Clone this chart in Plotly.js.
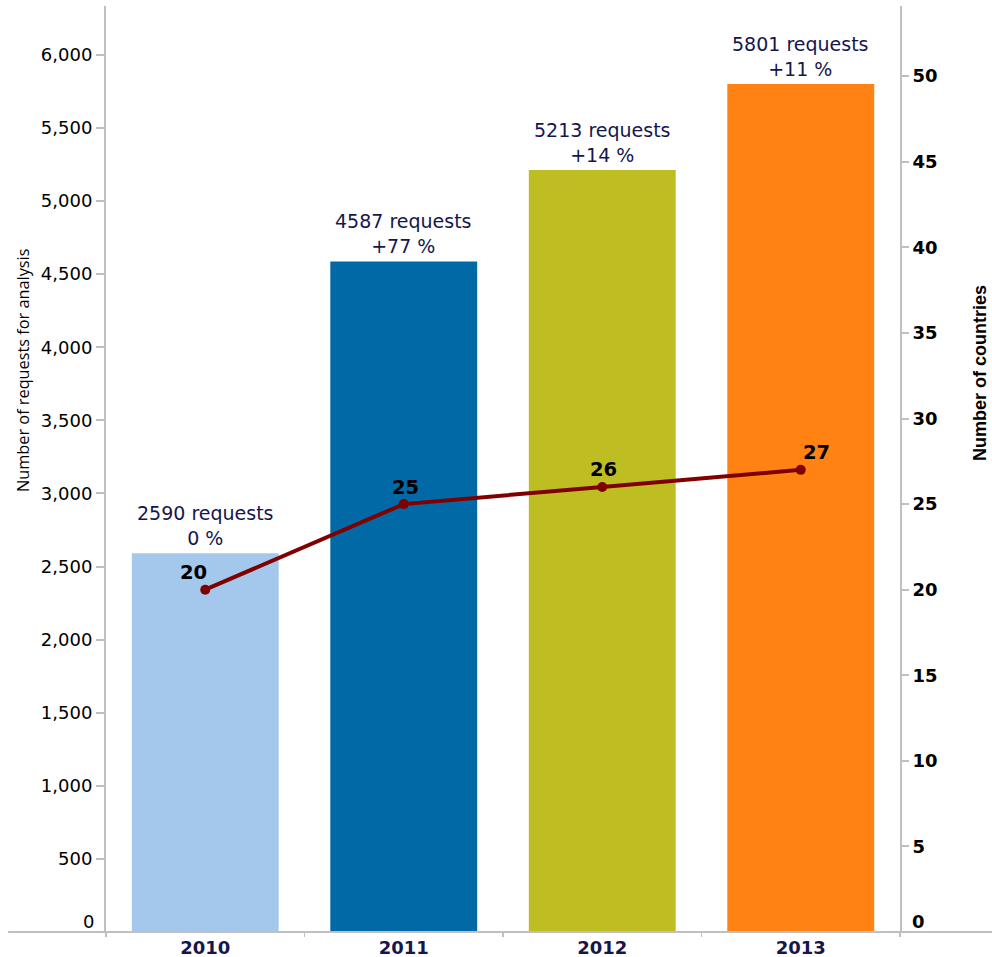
<!DOCTYPE html>
<html><head><meta charset="utf-8">
<script src="https://cdn.plot.ly/plotly-3.0.1.min.js"></script>
<style>html,body{margin:0;padding:0;background:#fff}#chart{width:992px;height:957px}</style>
</head><body><div id="chart"></div>
<script>
const years = ['2010', '2011', '2012', '2013'];
const requests = [2590, 4587, 5213, 5801];
const changeLabels = ['0 %', '+77 %', '+14 %', '+11 %'];
const countries = [20, 25, 26, 27];
const leftTicks = [500, 1000, 1500, 2000, 2500, 3000, 3500, 4000, 4500, 5000, 5500, 6000];
const rightTicks = [5, 10, 15, 20, 25, 30, 35, 40, 45, 50];
const leftTitle = 'Number of requests for analysis';
const rightTitle = 'Number of countries';
const barColors = ['#a3c8eb', '#0069a6', '#bebe23', '#ff8212'];

const countryLabelShift = [-12, 2, 1, 16];
const navy = '#16164e';
const grey = '#c0c0c0';

const traces = [
  {type: 'bar', x: years, y: requests, marker: {color: barColors}, hoverinfo: 'none', yaxis: 'y'},
  {type: 'scatter', mode: 'lines+markers', x: years, y: countries, yaxis: 'y2',
   line: {color: '#800000', width: 4}, marker: {color: '#800000', size: 10}, hoverinfo: 'none'}
];

const annotations = [];
years.forEach((yr, i) => {
  // category axes take the category index for annotation positions
  annotations.push({x: i, y: requests[i], xref: 'x', yref: 'y', yanchor: 'bottom', yshift: 2,
    text: requests[i] + ' requests<br>' + changeLabels[i], showarrow: false,
    font: {family: 'DejaVu Sans', size: 19, color: navy}});
  annotations.push({x: i, y: countries[i], xref: 'x', yref: 'y2', yanchor: 'middle', yshift: 17,
    xshift: countryLabelShift[i], text: '<b>' + countries[i] + '</b>', showarrow: false,
    font: {family: 'DejaVu Sans', size: 19.5, color: '#000'}});
});
annotations.push({x: 0, xref: 'paper', y: 0, yref: 'y', xanchor: 'right', xshift: -10, yshift: 11,
  text: '0', showarrow: false, font: {family: 'DejaVu Sans', size: 18, color: '#000'}});
annotations.push({x: 1, xref: 'paper', y: 0, yref: 'y', xanchor: 'left', xshift: 10, yshift: 11,
  text: '<b>0</b>', showarrow: false, font: {family: 'DejaVu Sans', size: 18, color: '#000'}});
annotations.push({x: -0.1045, xref: 'paper', y: 0.607, yref: 'paper', xanchor: 'center', yanchor: 'middle',
  textangle: -90, text: leftTitle, showarrow: false, font: {family: 'Open Sans', size: 16.3, color: '#000'}});
annotations.push({x: 1.1007, xref: 'paper', y: 0.6037, yref: 'paper', xanchor: 'center', yanchor: 'middle',
  textangle: -90, text: '<b>' + rightTitle + '</b>', showarrow: false,
  font: {family: 'Liberation Sans', size: 18, color: '#000'}});

const layout = {
  width: 992, height: 957,
  margin: {l: 106, r: 92, t: 6, b: 25},
  paper_bgcolor: '#fff', plot_bgcolor: '#fff',
  showlegend: false, bargap: 0.26,
  xaxis: {type: 'category', range: [-0.5, 3.5], showline: false, showgrid: false, zeroline: false,
    ticks: 'outside', tickson: 'boundaries', ticklen: 4, tickwidth: 1.5, tickcolor: grey,
    ticklabelstandoff: 3,
    tickfont: {family: 'DejaVu Sans', size: 18, color: navy, weight: 'bold'}},
  yaxis: {range: [0, 6334], tickvals: leftTicks, tickformat: ',', showline: true, linecolor: grey, linewidth: 2,
    ticks: 'outside', ticklen: 8, tickwidth: 2, tickcolor: grey, showgrid: false, zeroline: false,
    tickfont: {family: 'DejaVu Sans', size: 18, color: '#000'}},
  yaxis2: {overlaying: 'y', side: 'right', range: [0, 54.1], tickvals: rightTicks, showline: true,
    linecolor: grey, linewidth: 2, ticks: 'outside', ticklen: 7, tickwidth: 2, tickcolor: grey,
    showgrid: false, zeroline: false,
    tickfont: {family: 'DejaVu Sans', size: 18, color: '#000', weight: 'bold'}},
  shapes: [{type: 'line', xref: 'paper', yref: 'paper', x0: -0.1234, x1: 1.116, y0: 0, y1: 0,
    line: {color: grey, width: 2}}],
  annotations: annotations
};

Plotly.newPlot('chart', traces, layout, {staticPlot: true, displayModeBar: false});
</script></body></html>
